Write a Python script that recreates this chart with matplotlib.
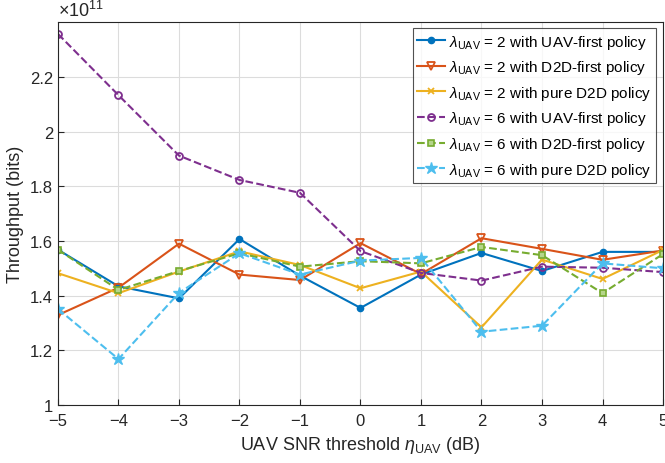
import matplotlib
matplotlib.use("Agg")
import matplotlib.pyplot as plt
import numpy as np

plt.rcParams['font.family'] = ['Liberation Sans', 'DejaVu Sans']
plt.rcParams['mathtext.fontset'] = 'custom'
plt.rcParams['mathtext.rm'] = 'Liberation Sans'
plt.rcParams['mathtext.it'] = 'Liberation Sans:italic'

# SNR threshold (dB)
eta = [-5, -4, -3, -2, -1, 0, 1, 2, 3, 4, 5]

# throughput in units of 1e11 bits
uav2_uavfirst = [1.568, 1.434, 1.390, 1.607, 1.473, 1.355, 1.477, 1.556, 1.490, 1.560, 1.560]
uav2_d2dfirst = [1.329, 1.429, 1.590, 1.477, 1.457, 1.592, 1.479, 1.610, 1.571, 1.531, 1.565]
uav2_pured2d = [1.482, 1.409, 1.488, 1.562, 1.512, 1.427, 1.488, 1.284, 1.532, 1.461, 1.567]
uav6_uavfirst = [2.357, 2.133, 1.912, 1.823, 1.776, 1.563, 1.483, 1.455, 1.506, 1.502, 1.486]
uav6_d2dfirst = [1.568, 1.421, 1.490, 1.555, 1.506, 1.526, 1.518, 1.578, 1.548, 1.409, 1.552]
uav6_pured2d = [1.351, 1.168, 1.410, 1.555, 1.477, 1.528, 1.538, 1.268, 1.290, 1.518, 1.500]

lam = r'$\lambda_{\mathrm{UAV}}$'
labels = [lam + ' = 2 with UAV-first policy',
          lam + ' = 2 with D2D-first policy',
          lam + ' = 2 with pure D2D policy',
          lam + ' = 6 with UAV-first policy',
          lam + ' = 6 with D2D-first policy',
          lam + ' = 6 with pure D2D policy']

fig = plt.figure(figsize=(6.65, 4.64), dpi=100)
ax = fig.add_axes([0.0872, 0.125, 0.9098, 0.825])

ax.plot(eta, uav2_uavfirst, '-', color='#0072BD', marker='.', ms=9, lw=1.5, label=labels[0])
ax.plot(eta, uav2_d2dfirst, '-', color='#D95319', marker='v', ms=6, mfc='none', mew=1.3, lw=1.5, label=labels[1])
ax.plot(eta, uav2_pured2d, '-', color='#EDB120', marker='x', ms=4, mew=1.3, lw=1.5, label=labels[2])
ax.plot(eta, uav6_uavfirst, '--', color='#7E2F8E', marker='o', ms=5, mfc='none', mew=1.3, lw=1.5, label=labels[3])
ax.plot(eta, uav6_d2dfirst, '--', color='#77AC30', marker='s', ms=5, mfc='#b5d58a', mew=1.2, lw=1.5, label=labels[4])
ax.plot(eta, uav6_pured2d, '--', color='#4DBEEE', marker='*', ms=9, lw=1.5, label=labels[5])

ax.set_xlim(-5, 5)
ax.set_ylim(1, 2.4)
ax.set_xticks(eta)
ax.set_yticks([1, 1.2, 1.4, 1.6, 1.8, 2, 2.2])
ax.set_yticklabels(['1', '1.2', '1.4', '1.6', '1.8', '2', '2.2'])
ax.grid(True, color='#dcdcdc', lw=0.8)
ax.set_axisbelow(True)
for s in ax.spines.values():
    s.set_color('#262626')
    s.set_linewidth(0.8)
ax.tick_params(colors='#262626', labelsize=12, direction='in', length=4)
ax.tick_params(axis='x', pad=6)

ax.set_xlabel(r'UAV SNR threshold $\eta_{\mathrm{UAV}}$ (dB)', fontsize=13, color='#262626')
ax.set_ylabel('Throughput (bits)', fontsize=13, color='#262626')
ax.text(0.0, 1.006, r'$\times10^{11}$', transform=ax.transAxes, fontsize=13,
        color='#262626', va='bottom', ha='left')

leg = ax.legend(loc='upper right', fontsize=11, frameon=True, fancybox=False,
                borderpad=0.3, labelspacing=0.5, handlelength=1.8, handletextpad=0.25,
                borderaxespad=0.0, bbox_to_anchor=(0.988, 0.985))
leg.get_frame().set_edgecolor('#262626')
leg.get_frame().set_linewidth(0.8)

fig.savefig('out.png', dpi=100)
